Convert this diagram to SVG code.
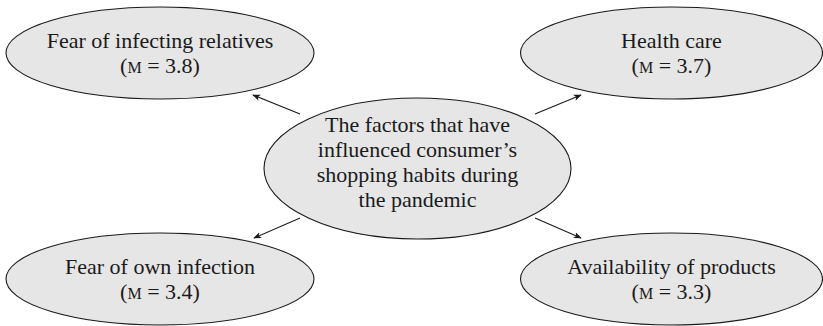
<svg xmlns="http://www.w3.org/2000/svg" width="823" height="326" viewBox="0 0 823 326">
<style>
.n{fill:#e6e6e6;stroke:#1a1a1a;stroke-width:1.1}
.t{font-family:"Liberation Serif","DejaVu Serif",serif;font-size:22px;fill:#1a1a1a;text-anchor:middle}
.sc{font-size:16px}
.c{stroke:#1a1a1a;stroke-width:1.1;fill:none;marker-end:url(#ah)}
</style>
<defs>
<marker id="ah" viewBox="0 0 10 10" refX="9" refY="5" markerWidth="8" markerHeight="8" markerUnits="userSpaceOnUse" orient="auto">
<path d="M0,1 L10,5 L0,9 L2.5,5 Z" fill="#1a1a1a"/>
</marker>
</defs>
<rect width="823" height="326" fill="#ffffff"/>
<g id="connectors">
<line class="c" x1="300" y1="114" x2="253" y2="95"/>
<line class="c" x1="535" y1="114" x2="581" y2="95"/>
<line class="c" x1="300" y1="218" x2="254" y2="238"/>
<line class="c" x1="535" y1="218" x2="581" y2="238"/>
</g>
<g id="center">
<ellipse class="n" cx="417.5" cy="168.5" rx="153.5" ry="70.5"/>
<text class="t" x="417.5" y="132">The factors that have</text>
<text class="t" x="417.5" y="157">influenced consumer’s</text>
<text class="t" x="417.5" y="182">shopping habits during</text>
<text class="t" x="417.5" y="207">the pandemic</text>
</g>
<g id="fear-relatives">
<ellipse class="n" cx="160" cy="53" rx="154" ry="46"/>
<text class="t" x="160" y="48">Fear of infecting relatives</text>
<text class="t" x="160" y="73">(<tspan class="sc">M</tspan> = 3.8)</text>
</g>
<g id="health-care">
<ellipse class="n" cx="671.5" cy="53" rx="151" ry="46"/>
<text class="t" x="671.5" y="48">Health care</text>
<text class="t" x="671.5" y="73">(<tspan class="sc">M</tspan> = 3.7)</text>
</g>
<g id="fear-own">
<ellipse class="n" cx="160" cy="279" rx="154" ry="46"/>
<text class="t" x="160" y="274">Fear of own infection</text>
<text class="t" x="160" y="299">(<tspan class="sc">M</tspan> = 3.4)</text>
</g>
<g id="availability">
<ellipse class="n" cx="671.5" cy="279" rx="151" ry="46"/>
<text class="t" x="671.5" y="274">Availability of products</text>
<text class="t" x="671.5" y="299">(<tspan class="sc">M</tspan> = 3.3)</text>
</g>
</svg>
